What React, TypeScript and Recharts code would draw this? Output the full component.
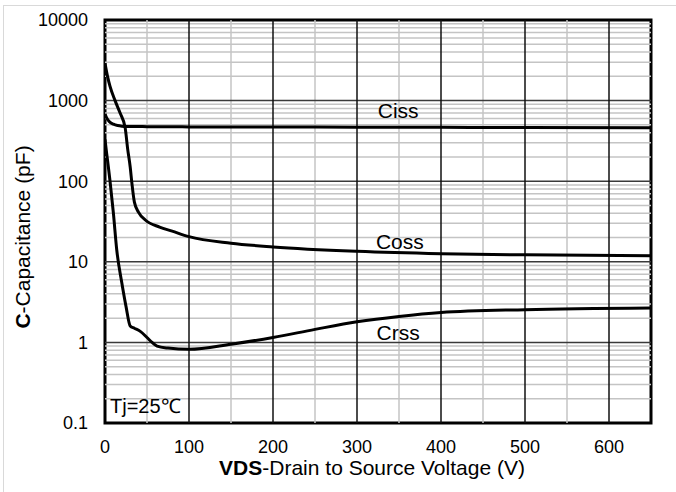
import { LineChart, Line, XAxis, YAxis, ReferenceLine, ReferenceArea, ReferenceDot } from 'recharts';

// Ciss (pF) vs VDS (V)
const vCiss = [0, 2, 5, 10, 15, 20, 30, 50, 100, 200, 300, 400, 500, 650];
const ciss = [680, 610, 550, 510, 490, 482, 478, 475, 472, 470, 468, 466, 464, 462];

// Coss (pF) vs VDS (V)
const vCoss = [0, 3, 6, 12, 18, 24, 27, 30, 32, 35, 40, 48, 65, 80, 100, 150, 200, 300, 400, 500, 650];
const coss = [2900, 2000, 1500, 1000, 700, 460, 250, 150, 95, 55, 41, 33, 27, 24, 20.5, 17, 15.3, 13.5, 12.6, 12.2, 11.9];

// Crss (pF) vs VDS (V)
const vCrss = [0, 2, 4, 6, 10, 14, 20, 25, 30, 35, 42, 50, 56, 62, 75, 100, 150, 200, 250, 300, 350, 400, 500, 650];
const crss = [330, 220, 150, 100, 40, 14, 5.5, 2.8, 1.6, 1.5, 1.37, 1.15, 1.0, 0.9, 0.85, 0.82, 0.95, 1.15, 1.45, 1.8, 2.1, 2.35, 2.55, 2.68];

const xTicks = [0, 100, 200, 300, 400, 500, 600];
const yTicks = [0.1, 1, 10, 100, 1000, 10000];
const seriesNames = ['Ciss', 'Coss', 'Crss'];
// where the curve names sit: [VDS, C]
const namePos = [[349, 760], [351, 17.7], [349, 1.33]];

const toRows = (xs: number[], ys: number[]) => xs.map((v, i) => ({ v, c: ys[i] }));
const series = [toRows(vCiss, ciss), toRows(vCoss, coss), toRows(vCrss, crss)];

const minorY: number[] = [];
yTicks.slice(0, -1).forEach((d) => {
  for (let k = 2; k <= 9; k++) minorY.push(+(d * k).toPrecision(3));
});
const minorX = [50, 150, 250, 350, 450, 550];

const font = '"Liberation Sans", Arial, sans-serif';

export default function App() {
  return (
    <div style={{ position: 'absolute', left: 0, top: 0, width: 676, height: 492, background: '#fff', overflow: 'hidden', fontFamily: font }}>
      <div style={{ position: 'absolute', left: 3, top: 5, width: 700, height: 520, border: '1px solid #d9d9d9' }} />
      <LineChart
        width={676}
        height={492}
        margin={{ top: 20, right: 25, bottom: 39, left: 45 }}
        style={{ position: 'absolute', left: 0, top: 0 }}
      >
        <XAxis
          dataKey="v"
          type="number"
          domain={[0, 650]}
          ticks={xTicks}
          allowDataOverflow
          axisLine={false}
          tickLine={false}
          tickMargin={11}
          height={30}
          tick={{ fontSize: 18, fill: '#000', fontFamily: font }}
        />
        <YAxis
          scale="log"
          domain={[0.1, 10000]}
          ticks={yTicks}
          allowDataOverflow
          axisLine={false}
          tickLine={false}
          tickMargin={11}
          width={60}
          tick={{ fontSize: 18, fill: '#000', fontFamily: font }}
        />
        {minorY.map((y) => (
          <ReferenceLine key={'my' + y} y={y} stroke="#c4c4c4" strokeWidth={1.5} />
        ))}
        {minorX.map((x) => (
          <ReferenceLine key={'mx' + x} x={x} stroke="#c4c4c4" strokeWidth={1.5} />
        ))}
        {yTicks.slice(1, -1).map((y) => (
          <ReferenceLine key={'My' + y} y={y} stroke="#3a3a3a" strokeWidth={1.5} />
        ))}
        {xTicks.slice(1).map((x) => (
          <ReferenceLine key={'Mx' + x} x={x} stroke="#111" strokeWidth={1.5} />
        ))}
        <ReferenceArea
          x1={0}
          x2={100}
          y1={0.1}
          y2={0.27}
          fill="#fff"
          fillOpacity={1}
          stroke="none"
          label={{ value: 'Tj=25℃', position: 'insideLeft', offset: 5, fontSize: 20, fill: '#000', fontFamily: font }}
        />
        {series.map((rows, i) => (
          <Line
            key={seriesNames[i]}
            data={rows}
            dataKey="c"
            type="monotone"
            stroke="#000"
            strokeWidth={3}
            dot={false}
            activeDot={false}
            isAnimationActive={false}
          />
        ))}
        {seriesNames.map((name, i) => (
          <ReferenceDot
            key={'lbl' + name}
            x={namePos[i][0]}
            y={namePos[i][1]}
            r={0}
            fill="none"
            stroke="none"
            label={{ value: name, position: 'center', fontSize: 21, fill: '#000', fontFamily: font }}
          />
        ))}
        <ReferenceArea x1={0} x2={650} y1={0.1} y2={10000} fill="none" stroke="#000" strokeWidth={3} />
      </LineChart>
      <svg width={676} height={492} style={{ position: 'absolute', left: 0, top: 0, pointerEvents: 'none' }}>
        <text x={372} y={467} textAnchor="middle" dominantBaseline="central" fontSize={21} fontFamily={font} fill="#000">
          <tspan fontWeight="bold">VDS</tspan>-Drain to Source Voltage (V)
        </text>
        <text
          x={22}
          y={237}
          transform="rotate(-90 22 237)"
          textAnchor="middle"
          dominantBaseline="central"
          fontSize={21}
          fontFamily={font}
          fill="#000"
        >
          <tspan fontWeight="bold">C</tspan>-Capacitance (pF)
        </text>
      </svg>
    </div>
  );
}
